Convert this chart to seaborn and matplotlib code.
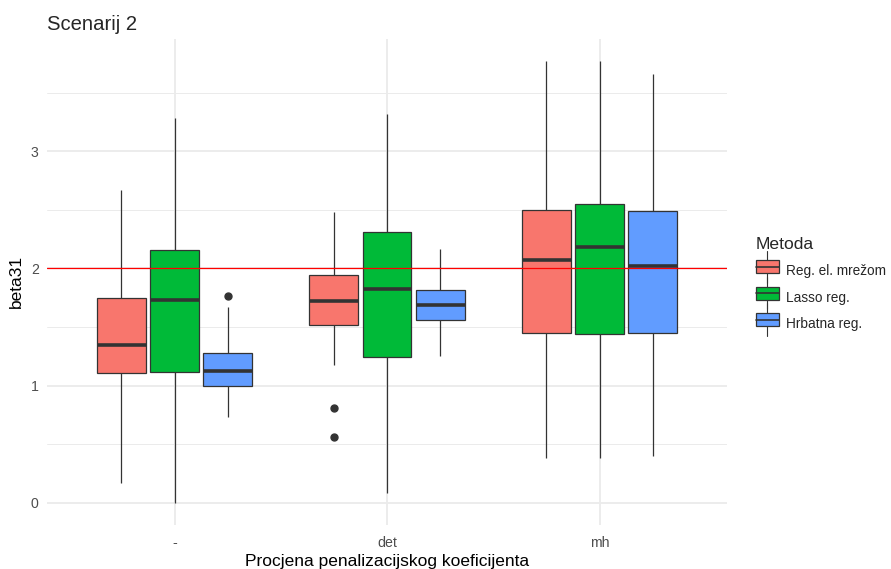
import numpy as np
import pandas as pd
import seaborn as sns
import matplotlib
matplotlib.use('Agg')
import matplotlib.pyplot as plt
from matplotlib.legend_handler import HandlerBase
from matplotlib.lines import Line2D
from matplotlib.patches import Rectangle

# kategorije
procjena = ['-', 'det', 'mh']
metode = ['Reg. el. mrežom', 'Lasso reg.', 'Hrbatna reg.']
boje = ['#F8766D', '#00BA38', '#619CFF']

# statistike kutija, redoslijed: (-, det, mh) x (el. mreza, lasso, hrbatna)
donji_brk = [0.17, 0.00, 0.735, 1.177, 0.087, 1.255, 0.383, 0.383, 0.40]
q1 = [1.106, 1.112, 0.998, 1.517, 1.245, 1.559, 1.452, 1.443, 1.452]
medijan = [1.344, 1.730, 1.128, 1.721, 1.823, 1.690, 2.067, 2.183, 2.017]
q3 = [1.749, 2.156, 1.276, 1.940, 2.308, 1.817, 2.496, 2.548, 2.487]
gornji_brk = [2.666, 3.284, 1.671, 2.484, 3.315, 2.165, 3.765, 3.771, 3.655]
donji_outlieri = [[], [], [], [0.806, 0.559], [], [], [], [], []]
gornji_outlieri = [[], [], [1.764], [], [], [], [], [], []]
prava_vrijednost = 2

# slaganje tocaka tako da seaborn izracuna iste kvartile
redovi = []
i = 0
for p in procjena:
    for m in metode:
        dolje = (donji_outlieri[i] + [donji_brk[i]] * 2)[:2]
        gore = (gornji_outlieri[i] + [gornji_brk[i]] * 2)[:2]
        vrijednosti = dolje + [donji_brk[i], q1[i], q1[i], medijan[i], medijan[i],
                               medijan[i], q3[i], q3[i], gornji_brk[i]] + gore
        for v in vrijednosti:
            redovi.append({'procjena': p, 'metoda': m, 'beta31': v})
        i += 1
df = pd.DataFrame(redovi)

sns.set_theme(style='white')
plt.rcParams['font.family'] = ['Liberation Sans', 'DejaVu Sans']

fig = plt.figure(figsize=(8.91, 5.69), dpi=100)
ax = fig.add_axes([47 / 891, 1 - 525 / 569, 680 / 891, (525 - 38.6) / 569])

sns.boxplot(data=df, x='procjena', y='beta31', hue='metoda',
            order=procjena, hue_order=metode, palette=boje,
            saturation=1, width=0.75, gap=0.08, linecolor='#333333',
            linewidth=0.9, showcaps=False,
            medianprops={'linewidth': 2.6, 'color': '#333333'},
            flierprops={'marker': 'o', 'markersize': 5, 'markerfacecolor': '#333333',
                        'markeredgecolor': '#333333'},
            legend=False, ax=ax, zorder=3)

ax.axhline(prava_vrijednost, color='red', linewidth=0.9, zorder=4)

ax.set_xlim(-0.6, 2.6)
ax.set_ylim(-0.19, 3.96)
ax.set_yticks([0, 1, 2, 3])
ax.set_yticks([0.5, 1.5, 2.5, 3.5], minor=True)

for s in ax.spines.values():
    s.set_visible(False)
ax.set_axisbelow(True)
ax.grid(which='major', axis='both', color='#EBEBEB', linewidth=1.3)
ax.grid(which='minor', axis='y', color='#EBEBEB', linewidth=0.7)
ax.tick_params(axis='both', which='both', length=0, labelsize=10.2, colors='#4D4D4D')
ax.tick_params(axis='x', pad=8)
ax.tick_params(axis='y', pad=6)

ax.set_xlabel('Procjena penalizacijskog koeficijenta', fontsize=12.5, color='black', labelpad=3)
ax.set_ylabel('beta31', fontsize=12.5, color='black', labelpad=5)
fig.text(47 / 891, 1 - 25 / 569, 'Scenarij 2', fontsize=14.6, ha='left', va='center')


# kljuc legende kao u ggplotu
class KljucKutije(HandlerBase):
    def create_artists(self, legend, orig_handle, xd, yd, w, h, fontsize, trans):
        boja = orig_handle.get_facecolor()
        cx = xd + w / 2
        brk = Line2D([cx, cx], [yd - 7, yd + h + 7], color='#333333', linewidth=0.8, transform=trans)
        kutija = Rectangle((xd, yd), w, h, facecolor=boja, edgecolor='#333333',
                           linewidth=0.9, transform=trans)
        med = Line2D([xd, xd + w], [yd + h / 2, yd + h / 2], color='#333333',
                     linewidth=1.2, transform=trans)
        return [brk, kutija, med]


rucke = [Rectangle((0, 0), 1, 1, facecolor=b) for b in boje]
leg = fig.legend(rucke, metode, handler_map={Rectangle: KljucKutije()},
                 loc='upper left', bbox_to_anchor=(749 / 891, 1 - 230 / 569),
                 frameon=False, title='Metoda', alignment='left', borderpad=0,
                 fontsize=9.8, title_fontsize=12.6, handlelength=1.7,
                 handleheight=1.1, labelspacing=0.9, handletextpad=0.55)

fig.savefig('out.png', dpi=100, facecolor='white')
